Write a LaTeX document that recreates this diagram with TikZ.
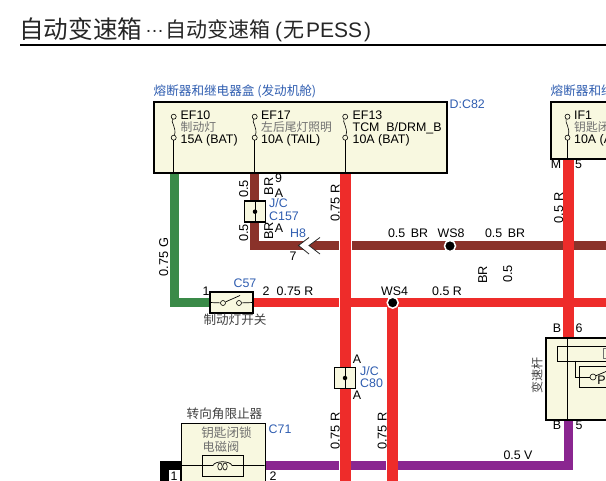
\documentclass[tikz,border=0pt]{standalone}
\usepackage{fontspec}
\setmainfont{Liberation Sans}
\newfontfamily\cjk{Noto Sans CJK SC}
\definecolor{cream}{HTML}{F8F8E0}
\definecolor{wgreen}{HTML}{3A8A48}
\definecolor{wbrown}{HTML}{8A322A}
\definecolor{wred}{HTML}{EE2C2A}
\definecolor{wpurple}{HTML}{8A2690}
\definecolor{lblue}{HTML}{2F5DB0}
\definecolor{gtext}{HTML}{707070}
\tikzset{
  x=1pt,y=-1pt,
  wire/.style={line width=#1,line cap=butt,line join=miter},
  wire/.default=9pt,
  boxf/.style={draw=black,fill=cream,line width=1.5pt},
  bigbox/.style={draw=black,fill=cream,line width=2pt},
  lab/.style={font=\fontsize{12.4}{12}\selectfont,inner sep=0pt,text=black},
  blab/.style={font=\fontsize{12.4}{12}\selectfont,inner sep=0pt,text=lblue},
  rlab/.style={font=\fontsize{12.8}{13}\selectfont,inner sep=0pt,text=black,rotate=90,anchor=base},
  cjkb/.style={font=\cjk\fontsize{12.6}{13}\selectfont,inner sep=0pt,text=lblue},
  cjkg/.style={font=\cjk\fontsize{11.8}{12}\selectfont,inner sep=0pt,text=gtext},
  cjkk/.style={font=\cjk\fontsize{12.6}{13}\selectfont,inner sep=0pt,text=black!75},
  term/.style={circle,draw=black,fill=cream,line width=0.6pt,inner sep=0pt,minimum size=5pt},
  dotn/.style={circle,fill=black,draw=white,line width=1.5pt,inner sep=0pt,minimum size=11pt},
  jdot/.style={circle,fill=black,inner sep=0pt,minimum size=4.5pt},
  gap/.style={fill=white,draw=none},
}
\begin{document}
\begin{tikzpicture}
\useasboundingbox (0,0) rectangle (606,481);
\clip (0,0) rectangle (606,481);
% title
\node[anchor=base west,inner sep=0pt,font=\cjk\fontsize{24.6}{25}\selectfont,text=black!85] (ttl) at (19,39) {自动变速箱};
\node[anchor=base west,inner sep=0pt,font=\fontsize{19}{19}\selectfont,text=black!85] (ttl1) at (145,33) {…};
\node[anchor=base west,inner sep=0pt,font=\cjk\fontsize{21}{21}\selectfont,text=black!85] (ttl2) at (165.5,38) {自动变速箱};
\node[anchor=base west,inner sep=0pt,font=\fontsize{21}{21}\selectfont,text=black!85] (ttl3) at (275,38) {(};
\node[anchor=base west,inner sep=0pt,font=\cjk\fontsize{21}{21}\selectfont,text=black!85] (ttl3b) at (283,38) {无};
\node[anchor=base west,inner sep=0pt,font=\fontsize{21}{21}\selectfont,text=black!85] (ttl4) at (306,38) {PESS};
\node[anchor=base west,inner sep=0pt,font=\fontsize{21}{21}\selectfont,text=black!85] (ttl5) at (364,38) {)};
\coordinate (rl) at (20,45.5); \coordinate (rr) at (606,45.5);
\draw[line width=2pt] (rl) -- (rr);
% named wire way-points
\coordinate (gt) at (174,172); \coordinate (gc) at (174,302.5); \coordinate (sl) at (211,302.5);
\coordinate (bt) at (254.5,172); \coordinate (bc) at (254.5,246); \coordinate (br) at (606,246);
\coordinate (r1t) at (345.5,172); \coordinate (r1b) at (345.5,481);
\coordinate (sr) at (252,302.5); \coordinate (rr2) at (606,302.5);
\coordinate (r2b) at (392.5,481);
\coordinate (r3t) at (568,158); \coordinate (r3b) at (568,338);
\coordinate (pl) at (264,466); \coordinate (pc) at (568,466); \coordinate (pt) at (568,418);
% wires
\draw[wire,draw=wgreen] (gt) -- (gc) -- (sl);
\draw[wire,draw=wbrown] (bt) -- (bc) -- (br);
\draw[wire,draw=wred] (sr) -- (rr2);
\draw[wire,draw=wpurple] (pl) -- (pc) -- (pt);
\fill[gap] (338.8,240) rectangle (352,252);
\fill[gap] (338.8,297) rectangle (340.5,308);
\fill[gap] (338.8,460) rectangle (340.5,472);
\fill[gap] (385.8,460) rectangle (387.5,472);
\fill[gap] (573,297) rectangle (574.2,308);
\draw[wire=11pt,draw=wred] (r1t) -- (r1b);
\draw[wire=11pt,draw=wred] (392.5,302.5) -- (r2b);
\draw[wire=11pt,draw=wred] (r3t) -- (r3b);
% fuse box 1
\node[bigbox,minimum width=293pt,minimum height=71pt,anchor=north west,inner sep=0pt] (fb) at (153,101.5) {};
\node[cjkb,anchor=base west] (fbt) at (153.5,96) {熔断器和继电器盒 (发动机舱)};
\node[blab,anchor=base west] (fbc) at (449.5,109) {D:C82};
\newcommand{\fuse}[2]{%
  \node[term] (#1a) at (#2,116.7) {};
  \node[term] (#1b) at (#2,137.7) {};
  \draw[line width=0.6pt] (#1a) .. controls (#2-3,122) and (#2+3,128) .. (#1b);
  \coordinate (#1c) at (#2,172);
  \draw[line width=0.7pt] (#1b) -- (#1c);
}
\fuse{ea}{173.7}
\fuse{eb}{254.7}
\fuse{ec}{345.2}
\node[lab,anchor=base west] (t1) at (180.5,120) {EF10};
\node[cjkg,anchor=base west] (t2) at (180.5,131.5) {制动灯};
\node[lab,anchor=base west] (t3) at (180.5,144) {15A (BAT)};
\node[lab,anchor=base west] (t4) at (261,120) {EF17};
\node[cjkg,anchor=base west] (t5) at (261,131.5) {左后尾灯照明};
\node[lab,anchor=base west] (t6) at (261,144) {10A (TAIL)};
\node[lab,anchor=base west] (t7) at (352.5,120) {EF13};
\node[lab,anchor=base west] (t8) at (352.5,132) {TCM\ \ B/DRM\_B};
\node[lab,anchor=base west] (t9) at (352.5,144) {10A (BAT)};
% fuse box 2
\node[bigbox,minimum width=70pt,minimum height=57pt,anchor=north west,inner sep=0pt] (fc) at (550,101.5) {};
\node[cjkb,anchor=base west] (fct) at (550.5,96) {熔断器和继};
\node[term] (ifa) at (567.5,116.7) {};
\node[term] (ifb) at (567.5,137.7) {};
\draw[line width=0.6pt] (ifa) .. controls (564.5,122) and (570.5,128) .. (ifb);
\coordinate (ifc) at (567.5,158);
\draw[line width=0.7pt] (ifb) -- (ifc);
\node[lab,anchor=base west] (i1) at (574,120) {IF1};
\node[cjkg,anchor=base west] (i2) at (574,131.5) {钥匙闭};
\node[lab,anchor=base west] (i3) at (574,144) {10A (A};
\node[lab,anchor=base] (im) at (556,169) {M};
\node[lab,anchor=base] (i5) at (578.5,169) {5};
% JC C157
\node[boxf,minimum width=21pt,minimum height=21pt,inner sep=0pt] (j1) at (255,211.7) {};
\draw[line width=0.7pt] (j1.north) -- (j1.south);
\node[jdot] (j1d) at (j1.center) {};
\node[rlab] (a1) at (248,189) {0.5};
\node[rlab] (a2) at (273,186.5) {BR};
\node[lab,anchor=base] (a3) at (278.5,183) {9};
\node[lab,anchor=base] (a4) at (279,198) {A};
\node[blab,anchor=base west] (a5) at (269,208) {J/C};
\node[blab,anchor=base west] (a6) at (269,221) {C157};
\node[rlab] (a7) at (248,233) {0.5};
\node[rlab] (a8) at (273,231) {BR};
\node[lab,anchor=base] (a9) at (279,233) {A};
\node[blab,anchor=base west] (a10) at (290,238) {H8};
\node[lab,anchor=base] (a11) at (293,260.5) {7};
% chevron
\coordinate (ch1) at (309,237.5); \coordinate (ch2) at (298.5,245.5); \coordinate (ch3) at (309,254);
\coordinate (ck1) at (320,237.5); \coordinate (ck2) at (309,245.5); \coordinate (ck3) at (320,254);
\fill[white] (ch1) -- (ch2) -- (ch3) -- (ck3) -- (ck2) -- (ck1) -- cycle;
\draw[line width=0.8pt,draw=black!85] (ch1) -- (ch2) -- (ch3);
\draw[line width=0.8pt,draw=black!85] (ck1) -- (ck2) -- (ck3);
\node[rlab] (g1) at (168,257) {0.75 G};
\node[rlab] (r1) at (339.5,203) {0.75 R};
\node[lab,anchor=base] (b1) at (408,238) {0.5\ \,BR};
\node[dotn] (ws8) at (450,246) {};
\node[lab,anchor=base] (ws8t) at (451,238) {WS8};
\node[lab,anchor=base] (b2) at (505,238) {0.5\ \,BR};
\node[rlab] (b3) at (487,275) {BR};
\node[rlab] (b4) at (512,274) {0.5};
\node[rlab] (r5) at (563,208) {0.5 R};
% switch
\node[boxf,minimum width=43pt,minimum height=21pt,inner sep=0pt] (sw) at (231.5,302.5) {};
\node[term] (s1) at (223,303) {};
\node[term] (s2) at (239,303) {};
\coordinate (sb) at (240,295.5);
\draw[line width=0.7pt] (sw.west) -- (s1);
\draw[line width=0.7pt] (s2) -- (sw.east);
\draw[line width=0.7pt] (s1) -- (sb);
\node[lab,anchor=base] (s3) at (206,296) {1};
\node[blab,anchor=base] (s4) at (245,288) {C57};
\node[lab,anchor=base] (s5) at (266,296) {2};
\node[lab,anchor=base] (s6) at (295,296) {0.75 R};
\node[cjkk,anchor=base] (s7) at (235,325) {制动灯开关};
\node[dotn] (ws4) at (392.7,302.7) {};
\node[lab,anchor=base] (ws4t) at (394.5,296) {WS4};
\node[lab,anchor=base] (s8) at (447,296) {0.5 R};
% JC C80
\node[boxf,minimum width=21pt,minimum height=21pt,inner sep=0pt] (j2) at (345,378) {};
\draw[line width=0.7pt] (j2.north) -- (j2.south);
\node[jdot] (j2d) at (j2.center) {};
\node[lab,anchor=base] (c1) at (357,364) {A};
\node[blab,anchor=base west] (c2) at (360,376) {J/C};
\node[blab,anchor=base west] (c3) at (360,388) {C80};
\node[lab,anchor=base] (c4) at (357,400) {A};
\node[rlab] (c5) at (339.5,431) {0.75 R};
\node[rlab] (c6) at (386.5,431) {0.75 R};
% C71
\fill[black] (159.5,461) rectangle (181,481);
\node[fill=white,minimum width=11pt,minimum height=12pt,anchor=north west,inner sep=0pt] (n1box) at (168.5,470) {};
\node[lab,anchor=base] (n1) at (174,481) {1};
\node[boxf,minimum width=84pt,minimum height=70pt,anchor=north west,inner sep=0pt] (c71) at (180.5,423) {};
\node[cjkk,anchor=base] (d1) at (224.5,419) {转向角限止器};
\node[blab,anchor=base west] (d2) at (268.5,434) {C71};
\node[cjkg,font=\cjk\fontsize{12.6}{13}\selectfont,anchor=base] (d3) at (226.5,438) {钥匙闭锁};
\node[cjkg,font=\cjk\fontsize{12.2}{13}\selectfont,anchor=base] (d4) at (221,452) {电磁阀};
\node[draw=black,line width=0.7pt,minimum width=41pt,minimum height=21pt,inner sep=0pt] (coil) at (222.5,465.5) {};
\coordinate (cw) at (180.5,465.5); \coordinate (ce) at (264.5,465.5);
\draw[line width=0.7pt] (cw) -- (213,465.5) .. controls (215,460.5) and (230,460.5) .. (232,465.5) -- (ce);
\draw[line width=0.6pt,fill=cream] (220,466.5) ellipse [x radius=2.2,y radius=3.6];
\draw[line width=0.6pt,fill=cream] (225,466.5) ellipse [x radius=2.2,y radius=3.6];
\node[lab,anchor=base] (n2) at (273,481) {2};
\node[lab,anchor=base] (v1) at (518,460) {0.5 V};
% right box
\node[bigbox,minimum width=70pt,minimum height=82pt,anchor=north west,inner sep=0pt] (rb) at (545,337) {};
\node[draw=black,line width=0.8pt,fill=cream,minimum width=60pt,minimum height=15pt,anchor=north west,inner sep=0pt] (rin) at (556.5,345.7) {};
\coordinate (v1t) at (567.7,337); \coordinate (v1bb) at (567.7,419);
\draw[line width=0.7pt] (v1t) -- (v1bb);
\draw[line width=0.7pt,draw=gtext] (603.5,348.5) -- (603.5,358) -- (606,358) (603.5,348.5) -- (606,348.5);
\node[draw=black,line width=0.8pt,minimum width=40pt,minimum height=21pt,anchor=north west,inner sep=0pt] (rpb) at (579.3,366) {};
\node[circle,draw=black,fill=cream,line width=0.6pt,inner sep=0pt,minimum size=6pt] (rc) at (593,377) {};
\coordinate (ra) at (575,360.7); \coordinate (rd) at (575,377);
\draw[line width=0.7pt] (ra) -- (rd) -- (rc);
\coordinate (rs) at (606,371.5);
\draw[line width=0.7pt] (rc) -- (rs);
\node[lab,anchor=base,text=black] (rp) at (601.5,385) {P};
\node[cjkk,font=\cjk\fontsize{12}{12}\selectfont,rotate=90,anchor=center] (rt) at (537,375.5) {变速杆};
\node[lab,anchor=base] (e1) at (557,333) {B};
\node[lab,anchor=base] (e2) at (579,333) {6};
\node[lab,anchor=base] (e3) at (557,430) {B};
\node[lab,anchor=base] (e4) at (579,430) {5};
\end{tikzpicture}
\end{document}
